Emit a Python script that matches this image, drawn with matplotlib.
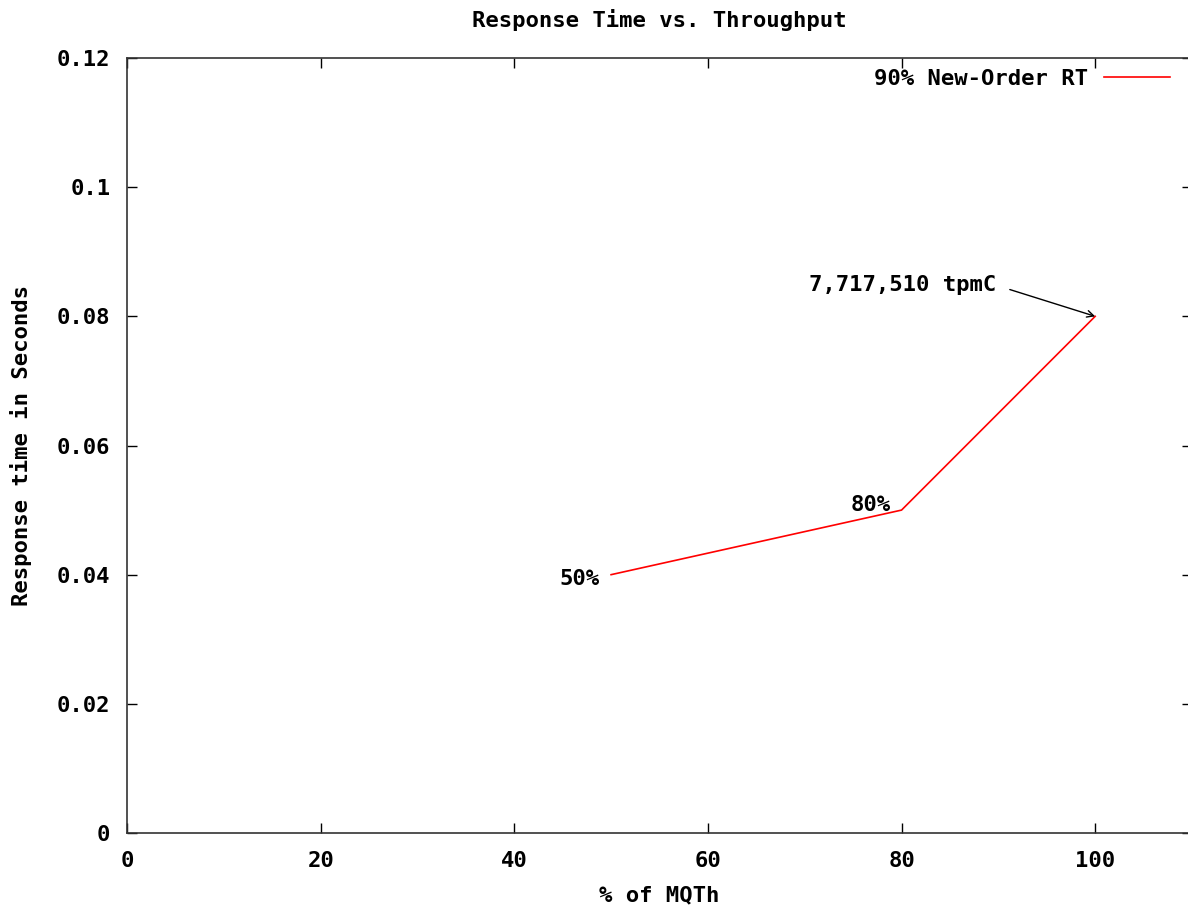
import matplotlib
matplotlib.use("Agg")
from matplotlib import pyplot as plt

# % of MQTh vs 90th percentile New-Order response time
mqth = [50, 80, 100]
rt = [0.04, 0.05, 0.08]
point_labels = ["50%", "80%", ""]
tpmc_label = "7,717,510 tpmC"

W, H = 1188, 909
plt.rcParams["font.family"] = "DejaVu Sans Mono"
plt.rcParams["font.weight"] = "bold"
plt.rcParams["axes.titleweight"] = "bold"
plt.rcParams["axes.labelweight"] = "bold"
plt.rcParams["font.size"] = 16

fig = plt.figure(figsize=(W / 100, H / 100), dpi=100)
ax = fig.add_axes([127 / W, 1 - 833 / H, 1065 / W, (833 - 58) / H])

ax.plot(mqth, rt, color="red", lw=1.2, label="90% New-Order RT")

for x, y, t in zip(mqth, rt, point_labels):
    if t:
        ax.annotate(t, (x, y), xytext=(-8, 4 if x == 80 else -3),
                    textcoords="offset points", ha="right", va="center")

ax.annotate(tpmc_label, xy=(mqth[-1], rt[-1]), xytext=(89.8, 0.0848),
            ha="right", va="center",
            arrowprops=dict(arrowstyle="->", color="black", lw=1.0,
                            relpos=(1, 0.5), shrinkA=8, shrinkB=0,
                            mutation_scale=12))

ax.set_xlim(0, 110)
ax.set_ylim(0, 0.12)
ax.set_xticks([0, 20, 40, 60, 80, 100])
ax.set_yticks([0, 0.02, 0.04, 0.06, 0.08, 0.1, 0.12])
ax.set_yticklabels(["0", "0.02", "0.04", "0.06", "0.08", "0.1", "0.12"])
ax.tick_params(direction="in", length=7, width=1, top=True, right=True)
ax.tick_params(axis="x", pad=13)
ax.tick_params(axis="y", pad=12)
for s in ax.spines.values():
    s.set_linewidth(1.2)
    s.set_color("#333333")

ax.set_title("Response Time vs. Throughput", fontsize=16, pad=22)
ax.set_xlabel("% of MQTh", labelpad=10)
ax.set_ylabel("Response time in Seconds", labelpad=18)

leg = ax.legend(loc="upper right", frameon=False, markerfirst=False,
                handlelength=3.0, handletextpad=0.7, borderaxespad=0.1,
                bbox_to_anchor=(0.99, 1.0))

fig.savefig("out.png", dpi=100)
